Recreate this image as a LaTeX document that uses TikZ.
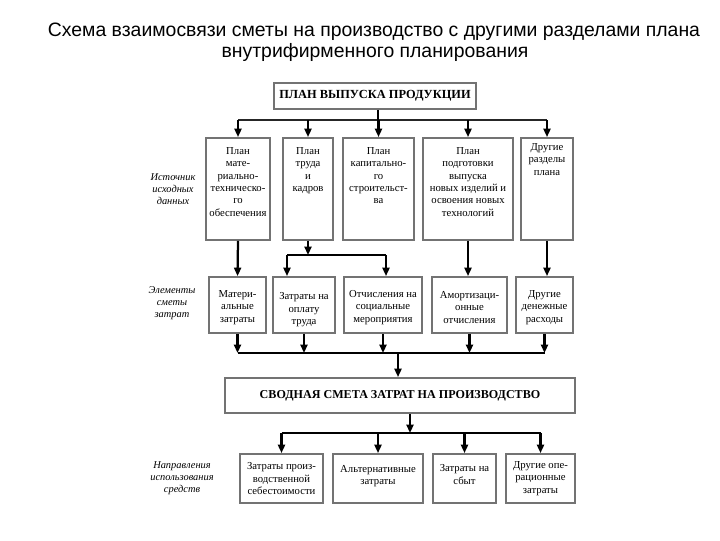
\documentclass[tikz,border=0pt]{standalone}
\usepackage{fontspec}
\setmainfont{Liberation Serif}
\newfontfamily\titlefont{Liberation Sans}
\usetikzlibrary{arrows.meta,fit,positioning}

\tikzset{
  box/.style={draw=black!55, line width=1.3pt, inner sep=0pt},
  boxtext/.style={font=\fontsize{7.6}{8.8}\selectfont, align=center, inner sep=0pt},
  headtext/.style={font=\fontsize{8.8}{10}\selectfont\bfseries},
  sidetext/.style={font=\fontsize{7.4}{8.4}\selectfont\itshape, align=center, inner sep=0pt},
  arr/.style={line width=1.6pt, -{Triangle[length=6pt,width=5pt]}},
  bus/.style={line width=1.3pt, draw=black!85},
  thinbus/.style={line width=0.8pt},
}

\begin{document}
\begin{tikzpicture}[x=0.025cm, y=-0.025cm]
\useasboundingbox (0,0) rectangle (720,540);

%---------------------------------------
% Title
%---------------------------------------
\node[font=\titlefont\fontsize{13.8}{15}\selectfont] (title1) at (374,32)
  {Схема взаимосвязи сметы на производство с другими разделами плана};
\node[font=\titlefont\fontsize{13.8}{15}\selectfont] (title2) at (375,52)
  {внутрифирменного планирования};

%---------------------------------------
% Top: production plan
%---------------------------------------
\node[box, fit={(274,83) (476,109)}] (plan) {};
\node[headtext] (plant) at (plan.center) {ПЛАН ВЫПУСКА ПРОДУКЦИИ};

%---------------------------------------
% Row 1: source data
%---------------------------------------
\node[box, fit={(206,138) (270,240)}] (src1) {};
\node[box, fit={(283,138) (333,240)}] (src2) {};
\node[box, fit={(343,138) (414,240)}] (src3) {};
\node[box, fit={(423,138) (513,240)}] (src4) {};
\node[box, fit={(521,138) (573,240)}] (src5) {};

\node[boxtext, anchor=north] (src1t) at ([yshift=-0.25cm]src1.north)
  {План\\мате-\\риально-\\техническо-\\го\\обеспечения};
\node[boxtext, anchor=north] (src2t) at ([yshift=-0.25cm]src2.north)
  {План\\труда\\и\\кадров};
\node[boxtext, anchor=north] (src3t) at ([yshift=-0.25cm]src3.north)
  {План\\капитально-\\го\\строительст-\\ва};
\node[boxtext, anchor=north] (src4t) at ([yshift=-0.25cm]src4.north)
  {План\\подготовки\\выпуска\\новых изделий и\\освоения новых\\технологий};
\node[boxtext, anchor=north] (src5t) at ([yshift=-0.15cm]src5.north)
  {Другие\\разделы\\плана};

\node[sidetext] (side1) at (173,189) {Источник\\исходных\\данных};

% plan -> row 1
\coordinate (j1) at (0,120);
\draw[bus] (src1.north |- j1) -- (src5.north |- j1);
\draw[line width=1.6pt] ([xshift=0.075cm]plan.south) -- ([xshift=0.075cm]plan.south |- j1);
\foreach \n in {src1,src2,src3,src4,src5}
  \draw[arr] (\n.north |- j1) -- (\n.north);

%---------------------------------------
% Row 2: cost elements
%---------------------------------------
\node[box, fit={(209,277) (266,333)}] (cost1) {};
\node[box, fit={(273,277) (335,333)}] (cost2) {};
\node[box, fit={(344,277) (422,333)}] (cost3) {};
\node[box, fit={(432,277) (507,333)}] (cost4) {};
\node[box, fit={(516,277) (573,333)}] (cost5) {};

\node[boxtext] (cost1t) at ([yshift=-0.06cm]cost1.center) {Матери-\\альные\\затраты};
\node[boxtext] (cost2t) at ([yshift=-0.12cm]cost2.center) {Затраты на\\оплату\\труда};
\node[boxtext] (cost3t) at ([yshift=-0.06cm]cost3.center) {Отчисления на\\социальные\\мероприятия};
\node[boxtext] (cost4t) at ([yshift=-0.06cm]cost4.center) {Амортизаци-\\онные\\отчисления};
\node[boxtext] (cost5t) at ([yshift=-0.06cm]cost5.center) {Другие\\денежные\\расходы};

\node[sidetext] (side2) at (172,303) {Элементы\\сметы\\затрат};

% row 1 -> row 2
\coordinate (j2) at (0,255);
\draw[arr] (src1.south) -- (cost1.north);
\draw[arr] (src2.south) -- (src2.south |- j2);
\draw[thinbus] ([xshift=-0.425cm]cost2.north |- j2) -- ([xshift=0.075cm]cost3.north |- j2);
\draw[arr] ([xshift=-0.425cm]cost2.north |- j2) -- ([xshift=-0.425cm]cost2.north);
\draw[arr] ([xshift=0.075cm]cost3.north |- j2) -- ([xshift=0.075cm]cost3.north);
\draw[arr] (src4.south) -- (src4.south |- cost4.north);
\draw[arr] (src5.south) -- (src5.south |- cost5.north);

%---------------------------------------
% Summary budget
%---------------------------------------
\node[box, fit={(225,378) (575,413)}] (summary) {};
\node[headtext, font=\fontsize{8.6}{10}\selectfont\bfseries] (summaryt) at (summary.center)
  {СВОДНАЯ СМЕТА ЗАТРАТ НА ПРОИЗВОДСТВО};

% row 2 -> summary
\coordinate (j3) at (0,353);
\draw[thinbus] (cost1.south |- j3) -- (cost5.south |- j3);
\foreach \n in {cost1,cost2,cost3,cost4,cost5}
  \draw[arr] (\n.south) -- (\n.south |- j3);
\draw[arr] ([xshift=-0.05cm]summary.north |- j3) -- ([xshift=-0.05cm]summary.north);

%---------------------------------------
% Row 3: uses of funds
%---------------------------------------
\node[box, fit={(240,454) (323,503)}] (use1) {};
\node[box, fit={(333,454) (423,503)}] (use2) {};
\node[box, fit={(433,454) (496,503)}] (use3) {};
\node[box, fit={(506,454) (575,503)}] (use4) {};

\node[boxtext] (use1t) at (use1.center) {Затраты произ-\\водственной\\себестоимости};
\node[boxtext] (use2t) at ([yshift=0.06cm]use2.center) {Альтернативные\\затраты};
\node[boxtext] (use3t) at ([yshift=0.1cm]use3.center) {Затраты на\\сбыт};
\node[boxtext] (use4t) at (use4.center) {Другие опе-\\рационные\\затраты};

\node[sidetext] (side3) at (182,478) {Направления\\использования\\средств};

% summary -> row 3
\coordinate (j4) at (0,433);
\draw[arr] ([xshift=0.25cm]summary.south) -- ([xshift=0.25cm]summary.south |- j4);
\draw[thinbus] (use1.north |- j4) -- (use4.north |- j4);
\foreach \n in {use1,use2,use3,use4}
  \draw[arr] (\n.north |- j4) -- (\n.north);

\end{tikzpicture}
\end{document}
